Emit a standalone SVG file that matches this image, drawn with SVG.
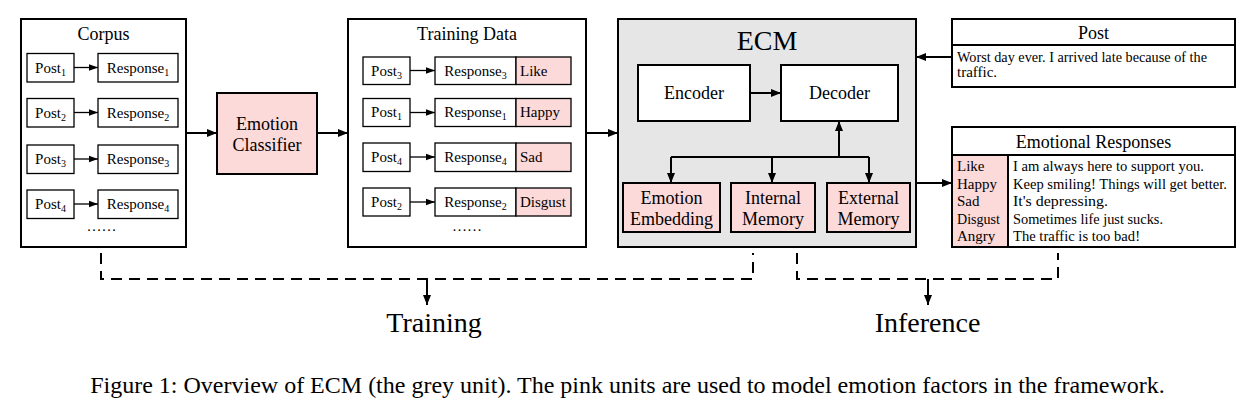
<svg xmlns="http://www.w3.org/2000/svg" width="1243" height="413" viewBox="0 0 1243 413">
<defs>
<marker id="ah" viewBox="0 0 10 10" refX="10" refY="5" markerWidth="5" markerHeight="5" orient="auto" markerUnits="strokeWidth"><path d="M0,1 L10,5 L0,9 Z" fill="#000"/></marker>
<marker id="ahs" viewBox="0 0 10 10" refX="10" refY="5" markerWidth="7" markerHeight="7" orient="auto" markerUnits="strokeWidth"><path d="M0,1.5 L10,5 L0,8.5 Z" fill="#000"/></marker>
</defs>
<style>
text{font-family:"Liberation Serif","Times New Roman",serif;fill:#000}
.big{fill:#fff;stroke:#000;stroke-width:2}
.sm{fill:#fff;stroke:#000;stroke-width:1.3}
.pk{fill:#fddada;stroke:#000;stroke-width:1.3}
.pkb{fill:#fddada;stroke:#000;stroke-width:2}
.wb{fill:#fff;stroke:#000;stroke-width:2}
.t15{font-size:15px}
.t14{font-size:14px}
.t16{font-size:15.5px}
.t18{font-size:18px}
.c{text-anchor:middle}
.sub{font-size:10px}
.ar{stroke:#000;stroke-width:2;fill:none;marker-end:url(#ah)}
.ars{stroke:#000;stroke-width:1.3;fill:none;marker-end:url(#ahs)}
.ln{stroke:#000;stroke-width:2;fill:none}
.ds{stroke:#000;stroke-width:2;fill:none;stroke-dasharray:11 7}
</style>

<g id="corpus">
<rect class="big" x="21" y="19" width="165" height="228"/>
<text class="t18 c" x="103.5" y="40">Corpus</text>
<rect class="sm" x="27" y="53.5" width="47" height="28.5"/>
<text class="t15 c" x="50.5" y="72.5">Post<tspan class="sub" dy="3">1</tspan></text>
<rect class="sm" x="98" y="53.5" width="80" height="28.5"/>
<text class="t15 c" x="138" y="72.5">Response<tspan class="sub" dy="3">1</tspan></text>
<rect class="sm" x="27" y="98.5" width="47" height="28.5"/>
<text class="t15 c" x="50.5" y="117.5">Post<tspan class="sub" dy="3">2</tspan></text>
<rect class="sm" x="98" y="98.5" width="80" height="28.5"/>
<text class="t15 c" x="138" y="117.5">Response<tspan class="sub" dy="3">2</tspan></text>
<rect class="sm" x="27" y="145" width="47" height="28.5"/>
<text class="t15 c" x="50.5" y="164">Post<tspan class="sub" dy="3">3</tspan></text>
<rect class="sm" x="98" y="145" width="80" height="28.5"/>
<text class="t15 c" x="138" y="164">Response<tspan class="sub" dy="3">3</tspan></text>
<rect class="sm" x="27" y="190" width="47" height="28.5"/>
<text class="t15 c" x="50.5" y="209">Post<tspan class="sub" dy="3">4</tspan></text>
<rect class="sm" x="98" y="190" width="80" height="28.5"/>
<text class="t15 c" x="138" y="209">Response<tspan class="sub" dy="3">4</tspan></text>
<text class="t15 c" x="101.5" y="231">……</text>
</g>

<g id="emotion-classifier">
<rect class="pkb" x="217" y="93" width="100" height="81"/>
<text class="t18 c" x="267" y="130">Emotion</text>
<text class="t18 c" x="267" y="151">Classifier</text>
</g>

<g id="training-data">
<rect class="big" x="348" y="19" width="238" height="228"/>
<text class="t18 c" x="467" y="40">Training Data</text>
<rect class="sm" x="363" y="57" width="47" height="27.5"/>
<text class="t15 c" x="386.5" y="75.5">Post<tspan class="sub" dy="3">3</tspan></text>
<rect class="sm" x="435" y="57" width="81" height="27.5"/>
<rect class="pk" x="516" y="57" width="55" height="27.5"/>
<text class="t15 c" x="475.5" y="75.5">Response<tspan class="sub" dy="3">3</tspan></text>
<text class="t15" x="520" y="75.5">Like</text>

<rect class="sm" x="363" y="98.5" width="47" height="28"/>
<text class="t15 c" x="386.5" y="117">Post<tspan class="sub" dy="3">1</tspan></text>
<rect class="sm" x="435" y="98.5" width="81" height="28"/>
<rect class="pk" x="516" y="98.5" width="55" height="28"/>
<text class="t15 c" x="475.5" y="117">Response<tspan class="sub" dy="3">1</tspan></text>
<text class="t15" x="520" y="117">Happy</text>

<rect class="sm" x="363" y="143" width="47" height="28.5"/>
<text class="t15 c" x="386.5" y="162">Post<tspan class="sub" dy="3">4</tspan></text>
<rect class="sm" x="435" y="143" width="81" height="28.5"/>
<rect class="pk" x="516" y="143" width="55" height="28.5"/>
<text class="t15 c" x="475.5" y="162">Response<tspan class="sub" dy="3">4</tspan></text>
<text class="t15" x="520" y="162">Sad</text>

<rect class="sm" x="363" y="188" width="47" height="28"/>
<text class="t15 c" x="386.5" y="206.5">Post<tspan class="sub" dy="3">2</tspan></text>
<rect class="sm" x="435" y="188" width="81" height="28"/>
<rect class="pk" x="516" y="188" width="55" height="28"/>
<text class="t15 c" x="475.5" y="206.5">Response<tspan class="sub" dy="3">2</tspan></text>
<text class="t15" x="520" y="206.5">Disgust</text>
<text class="t15 c" x="467" y="231">……</text>
</g>

<g id="ecm">
<rect x="618" y="19" width="298" height="228" fill="#e6e6e6" stroke="#000" stroke-width="2"/>
<text class="c" x="767" y="50" font-size="28">ECM</text>
</g>
<g id="encoder">
<rect class="wb" x="638" y="65" width="112" height="56"/>
<text class="t18 c" x="694" y="99">Encoder</text>
</g>
<g id="decoder">
<rect class="wb" x="781" y="65" width="117" height="56"/>
<text class="t18 c" x="839.5" y="99">Decoder</text>
</g>
<g id="emotion-embedding">
<rect class="pkb" x="623" y="183" width="97" height="49"/>
<text class="t18 c" x="671.5" y="204">Emotion</text>
<text class="t18 c" x="671.5" y="225">Embedding</text>
</g>
<g id="internal-memory">
<rect class="pkb" x="731" y="183" width="84" height="49"/>
<text class="t18 c" x="773" y="204">Internal</text>
<text class="t18 c" x="773" y="225">Memory</text>
</g>
<g id="external-memory">
<rect class="pkb" x="827" y="183" width="83" height="49"/>
<text class="t18 c" x="868.5" y="204">External</text>
<text class="t18 c" x="868.5" y="225">Memory</text>
</g>

<g id="post">
<rect class="big" x="952" y="19" width="283" height="68"/>
<line class="ln" x1="952" y1="45" x2="1235" y2="45"/>
<text class="t18 c" x="1093.5" y="39">Post</text>
<text class="t15" x="957" y="61.5" textLength="250" lengthAdjust="spacingAndGlyphs">Worst day ever. I arrived late because of the</text>
<text class="t15" x="957" y="76.5">traffic.</text>
</g>

<g id="emotional-responses">
<rect class="big" x="952" y="127" width="283" height="120"/>
<rect x="952" y="155" width="56" height="92" fill="#fddada"/>
<line class="ln" x1="952" y1="155" x2="1235" y2="155"/>
<line class="ln" x1="1008" y1="155" x2="1008" y2="247"/>
<rect x="952" y="127" width="283" height="120" fill="none" stroke="#000" stroke-width="2"/>
<text class="t18 c" x="1093.5" y="148">Emotional Responses</text>
<text class="t15" x="957" y="171">Like</text>
<text class="t15" x="957" y="188.5">Happy</text>
<text class="t15" x="957" y="206">Sad</text>
<text class="t15" x="957" y="223.5" textLength="43" lengthAdjust="spacingAndGlyphs">Disgust</text>
<text class="t15" x="957" y="241">Angry</text>
<text class="t16" x="1013" y="171" textLength="191" lengthAdjust="spacingAndGlyphs">I am always here to support you.</text>
<text class="t16" x="1013" y="188.5" textLength="214" lengthAdjust="spacingAndGlyphs">Keep smiling! Things will get better.</text>
<text class="t16" x="1013" y="206" textLength="95" lengthAdjust="spacingAndGlyphs">It's depressing.</text>
<text class="t16" x="1013" y="223.5" textLength="150" lengthAdjust="spacingAndGlyphs">Sometimes life just sucks.</text>
<text class="t16" x="1013" y="241" textLength="127" lengthAdjust="spacingAndGlyphs">The traffic is too bad!</text>
</g>

<g id="training-label">
<text class="c" x="434" y="332" font-size="28">Training</text>
</g>
<g id="inference-label">
<text class="c" x="927.5" y="332" font-size="28">Inference</text>
</g>

<g id="connectors">
<line class="ars" x1="74" y1="67.5" x2="98" y2="67.5"/>
<line class="ars" x1="74" y1="112.5" x2="98" y2="112.5"/>
<line class="ars" x1="74" y1="159" x2="98" y2="159"/>
<line class="ars" x1="74" y1="204" x2="98" y2="204"/>
<line class="ars" x1="410" y1="70.5" x2="435" y2="70.5"/>
<line class="ars" x1="410" y1="112.5" x2="435" y2="112.5"/>
<line class="ars" x1="410" y1="157" x2="435" y2="157"/>
<line class="ars" x1="410" y1="202" x2="435" y2="202"/>
<line class="ar" x1="186" y1="133" x2="217" y2="133"/>
<line class="ar" x1="317" y1="133" x2="348" y2="133"/>
<line class="ar" x1="586" y1="133" x2="618" y2="133"/>
<line class="ar" x1="750" y1="93" x2="781" y2="93"/>
<line class="ar" x1="839" y1="157" x2="839" y2="121"/>
<line class="ln" x1="671" y1="157" x2="869" y2="157"/>
<line class="ar" x1="671" y1="157" x2="671" y2="183"/>
<line class="ar" x1="772" y1="157" x2="772" y2="183"/>
<line class="ar" x1="869" y1="157" x2="869" y2="183"/>
<line class="ar" x1="952" y1="57" x2="916" y2="57"/>
<line class="ar" x1="916" y1="183" x2="952" y2="183"/>
<path class="ds" d="M101,253 V279 H753 V253"/>
<line class="ar" x1="427" y1="279" x2="427" y2="305"/>
<path class="ds" d="M797,253 V279 H1058 V253"/>
<line class="ar" x1="928" y1="279" x2="928" y2="305"/>
</g>

<text x="627.5" y="393" font-size="24" text-anchor="middle">Figure 1: Overview of ECM (the grey unit). The pink units are used to model emotion factors in the framework.</text>
</svg>
